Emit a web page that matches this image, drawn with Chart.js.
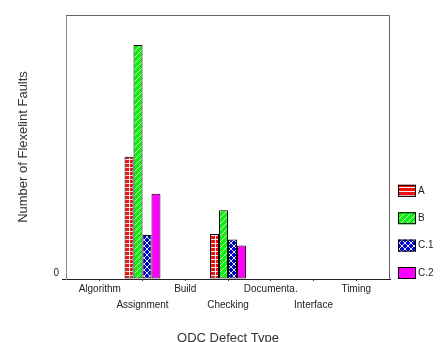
<!DOCTYPE html>
<html>
<head>
<meta charset="utf-8">
<script src="https://cdn.jsdelivr.net/npm/chart.js@4"></script>
<style>
  body { margin: 0; background: #fff; }
  #wrap { width: 440px; height: 342px; }
</style>
</head>
<body>
<div id="wrap"><canvas id="myChart" width="440" height="342"></canvas></div>
<script>
// data
var categories = ["Algorithm", "Assignment", "Build", "Checking", "Documenta.", "Interface", "Timing"];
var seriesNames = ["A", "B", "C.1", "C.2"];
var valuesA  = [0, 13.9, 0, 5.1, 0, 0, 0];
var valuesB  = [0, 26.6, 0, 7.8, 0, 0, 0];
var valuesC1 = [0, 5.0, 0, 4.5, 0, 0, 0];
var valuesC2 = [0, 9.7, 0, 3.8, 0, 0, 0];
var yTicks = [0];
var yMax = 30;

var ctx = document.getElementById('myChart').getContext('2d');

// little fill patterns like the old SPSS bars
function makePattern(bg, w, h, draw) {
    var c = document.createElement('canvas');
    c.width = w; c.height = h;
    var g = c.getContext('2d');
    g.fillStyle = bg;
    g.fillRect(0, 0, w, h);
    g.strokeStyle = 'rgba(255,255,255,0.9)';
    g.lineWidth = 1;
    if (draw) draw(g, w, h);
    return ctx.createPattern(c, 'repeat');
}

var fillA = makePattern('#ee1111', 43, 4, function (g, w, h) {
    g.beginPath();
    g.moveTo(0, 3.5); g.lineTo(w, 3.5);
    g.moveTo(0.5, 0); g.lineTo(0.5, h);
    g.stroke();
});
var fillB = makePattern('#11ee11', 6, 6, function (g, w, h) {
    g.strokeStyle = 'rgba(255,255,255,0.75)';
    g.beginPath();
    g.moveTo(0, h); g.lineTo(w, 0);
    g.moveTo(-1, 1); g.lineTo(1, -1);
    g.moveTo(w - 1, h + 1); g.lineTo(w + 1, h - 1);
    g.stroke();
});
var fillC1 = makePattern('#0000cc', 6, 6, function (g, w, h) {
    g.beginPath();
    g.moveTo(0, 0); g.lineTo(w, h);
    g.moveTo(0, h); g.lineTo(w, 0);
    g.stroke();
});
var fillC2 = '#ff00ff';

function toPoints(arr) {
    return arr.map(function (v, i) { return { x: i, y: v }; });
}

// frame round the plot + legend on the right, like the original
var framePlugin = {
    id: 'frame',
    beforeDatasetsDraw: function (chart) {
        var a = chart.chartArea, c = chart.ctx;
        c.save();
        c.strokeStyle = '#666';
        c.lineWidth = 1;
        c.beginPath();
        c.moveTo(a.left, a.top + 0.5);
        c.lineTo(a.right - 0.5, a.top + 0.5);
        c.lineTo(a.right - 0.5, a.bottom);
        c.stroke();
        c.restore();
    },
    afterDraw: function (chart) {
        var a = chart.chartArea, c = chart.ctx;
        var sets = chart.data.datasets;
        var step = 27.4;
        c.save();
        c.font = '10px Arial, "Liberation Sans", sans-serif';
        c.textBaseline = 'middle';
        for (var i = 0; i < sets.length; i++) {
            var top = a.bottom - 12 - (sets.length - 1 - i) * step;
            c.fillStyle = sets[i].backgroundColor;
            c.fillRect(a.right + 8, top, 18, 12);
            c.strokeStyle = '#000';
            c.strokeRect(a.right + 8.5, top + 0.5, 17, 11);
            c.fillStyle = '#222';
            c.fillText(sets[i].label, a.right + 28, top + 6);
        }
        c.restore();
    }
};

var chart = new Chart(ctx, {
    type: 'bar',
    data: {
        datasets: [{
            label: seriesNames[0],
            backgroundColor: fillA,
            data: toPoints(valuesA)
        }, {
            label: seriesNames[1],
            backgroundColor: fillB,
            data: toPoints(valuesB)
        }, {
            label: seriesNames[2],
            backgroundColor: fillC1,
            data: toPoints(valuesC1)
        }, {
            label: seriesNames[3],
            backgroundColor: fillC2,
            data: toPoints(valuesC2)
        }]
    },
    options: {
        responsive: false,
        animation: false,
        layout: { padding: { top: 15, right: 50, left: 0, bottom: 0 } },
        datasets: {
            bar: {
                borderColor: '#000',
                borderWidth: 1,
                borderSkipped: false,
                barPercentage: 1,
                categoryPercentage: 0.84
            }
        },
        plugins: {
            legend: { display: false },
            tooltip: { enabled: false }
        },
        scales: {
            x: {
                type: 'linear',
                offset: false,
                min: -0.79,
                max: 6.79,
                afterBuildTicks: function (scale) {
                    scale.ticks = categories.map(function (c, i) { return { value: i }; });
                },
                afterFit: function (scale) { scale.height = 63; },
                grid: { drawOnChartArea: false, offset: false, tickLength: 2, color: '#444' },
                border: { color: '#222' },
                ticks: {
                    autoSkip: false,
                    maxRotation: 0,
                    padding: 0,
                    color: '#222',
                    font: { family: 'Arial, "Liberation Sans", sans-serif', size: 10, lineHeight: 1.6 },
                    callback: function (value) {
                        var i = Math.round(value);
                        var lab = categories[i];
                        return i % 2 ? ['', lab] : lab;
                    }
                },
                title: {
                    display: true,
                    text: 'ODC Defect Type',
                    color: '#333',
                    padding: { top: 0, bottom: -4 },
                    font: { family: 'Arial, "Liberation Sans", sans-serif', size: 13 }
                }
            },
            y: {
                min: 0,
                max: yMax,
                afterBuildTicks: function (scale) {
                    scale.ticks = yTicks.map(function (v) { return { value: v }; });
                },
                afterFit: function (scale) { scale.width = 66; },
                grid: { drawOnChartArea: false, tickLength: 4, color: '#222' },
                border: { color: '#888' },
                ticks: {
                    padding: 3,
                    labelOffset: -6,
                    color: '#222',
                    font: { family: 'Arial, "Liberation Sans", sans-serif', size: 10 }
                },
                title: {
                    display: true,
                    text: 'Number of Flexelint Faults',
                    color: '#333',
                    padding: { top: 16, bottom: 0 },
                    font: { family: 'Arial, "Liberation Sans", sans-serif', size: 13 }
                }
            }
        }
    },
    plugins: [framePlugin]
});
</script>
</body>
</html>
